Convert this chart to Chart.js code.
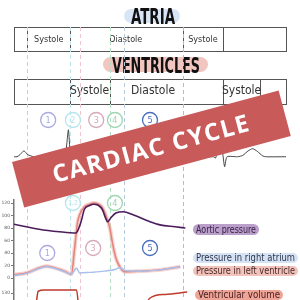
<!DOCTYPE html>
<html>
<head>
<meta charset="utf-8">
<script src="https://cdn.jsdelivr.net/npm/chart.js"></script>
<style>
  html, body { margin: 0; padding: 0; background: #fff; }
  canvas { display: block; }
</style>
</head>
<body>
<canvas id="cycle" width="300" height="300"></canvas>
<script>
// time in ms (0..900), pressure in mmHg, volume in ml, ecg in mV
const ecgTime = [0, 10, 20, 33, 45, 67, 160, 167, 173, 180, 186, 190, 197, 283, 303, 323, 343, 363, 650, 660, 667, 675, 683, 691, 697, 705, 740, 757, 775, 790, 805, 823, 833, 900];
const ecgMv   = [0, 0, 0.08, 0.22, 0.08, 0, 0, -0.1, 0.3, 1.0, 0.1, -0.12, 0, 0, 0.15, 0.3, 0.15, 0, 0, 0, -0.05, 0.3, 1.0, 0.1, -0.37, 0, 0, 0.05, 0.22, 0.3, 0.2, 0.03, 0, 0];

const aorticTime = [0, 83, 150, 205, 213, 223, 233, 250, 263, 280, 293, 303, 310, 320, 337, 363, 390, 450, 483, 533, 567];
const aorticP    = [86, 78, 74, 72, 78, 92, 110, 116, 118, 116, 109, 96, 90, 96, 104, 106, 102, 90, 85, 82, 80];

const lvTime = [0, 40, 107, 167, 190, 200, 210, 217, 233, 250, 263, 280, 293, 307, 317, 327, 337, 350, 367, 417, 483, 550];
const lvP    = [5, 8, 19, 11, 6, 45, 88, 101, 114, 118, 120, 118, 112, 96, 80, 53, 32, 18, 10, 11, 13, 18];

const raTime = [0, 40, 107, 167, 190, 200, 207, 217, 250, 300, 337, 350, 367, 417, 483, 550];
const raP    = [4, 7, 18, 10, 6, 12, 16, 8, 9, 11, 14, 17, 12, 11, 13, 18];

const volTime = [67, 75, 80, 100, 200, 207, 213, 230, 330, 400, 433, 450, 500, 573];
const volMl   = [120, 127, 130.5, 131, 131, 131, 125, 100, 60, 60, 120, 127.8, 129.2, 130.2];

const pressureTicks = [-24, 0, 20, 40, 60, 80, 100, 120];
const volumeTickAt = -24;
const volumeTickLabel = '130';

const atriaEdges = [43, 185, 560, 690];
const atriaLabels = ['Systole', 'Diastole', 'Systole'];
const atriaLabelT = [115, 370, 625];
const ventricleEdges = [185, 318, 693, 813];
const ventricleLabels = ['Systole', 'Diastole', 'Systole'];
const ventricleLabelT = [250, 460, 753];

const markerT = [43, 185, 220, 318, 363, 560];
const markerColors = ['#c2d0e4', '#bfe6ee', '#efc6d0', '#b6e0c6', '#b5cbe0', '#aebdd4'];

const stageTopLabels = ['1', '2', '3', '4', '5'];
const stageTopT = [113, 195, 272, 334, 450];
const stageChartLabels = ['1', '1,2', '3', '4', '5'];
const stageChartT = [110, 195, 262, 334, 450];
const stageChartP = [40, 120, 48, 120, 48];
const stageColors = ['#a9a8e2', '#b5e6ec', '#d8a8b8', '#9fd6b0', '#4a6fc0'];

const seriesNames = ['Aortic pressure', 'Pressure in right atrium', 'Pressure in left ventricle', 'Ventricular volume'];

const hand = "'Liberation Sans Narrow', 'DejaVu Sans Condensed', sans-serif";

function pts(xs, ys) {
  return xs.map((t, i) => ({ x: t, y: ys[i] }));
}

function pill(ctx, x, y, w, h, color) {
  const r = h / 2;
  ctx.fillStyle = color;
  ctx.beginPath();
  ctx.moveTo(x + r, y);
  ctx.lineTo(x + w - r, y);
  ctx.arc(x + w - r, y + r, r, -Math.PI / 2, Math.PI / 2);
  ctx.lineTo(x + r, y + h);
  ctx.arc(x + r, y + r, r, Math.PI / 2, Math.PI * 1.5);
  ctx.fill();
}

function circleNum(ctx, cx, cy, r, color, label) {
  ctx.strokeStyle = color;
  ctx.lineWidth = 1.3;
  ctx.beginPath();
  ctx.arc(cx, cy, r, 0, Math.PI * 2);
  ctx.stroke();
  ctx.fillStyle = color;
  ctx.font = (label.length > 1 ? '7px ' : '9px ') + hand;
  ctx.textAlign = 'center';
  ctx.textBaseline = 'middle';
  ctx.fillText(label, cx, cy + 0.5);
}

const decor = {
  id: 'decor',
  beforeDatasetsDraw(chart) {
    const ctx = chart.ctx;
    const xs = chart.scales.x;
    const ys = chart.scales.y;
    const left = chart.chartArea.left;
    const right = chart.chartArea.right;
    ctx.save();

    // titles
    pill(ctx, 124, 9, 56, 14, '#d8e5f6');
    pill(ctx, 103, 57, 105, 15, '#f1c6c1');
    ctx.fillStyle = '#111';
    ctx.textAlign = 'center';
    ctx.textBaseline = 'alphabetic';
    ctx.font = 'bold 21px ' + hand;
    ctx.fillText('ATRIA', 153, 23.5, 44);
    ctx.fillText('VENTRICLES', 156, 72.5, 88);

    // phase boxes
    ctx.strokeStyle = '#555';
    ctx.lineWidth = 1;
    const rows = [
      { top: 27, h: 24, edges: atriaEdges, labels: atriaLabels, lt: atriaLabelT, size: 9, ly: 40 },
      { top: 79, h: 25, edges: ventricleEdges, labels: ventricleLabels, lt: ventricleLabelT, size: 12, ly: 91 }
    ];
    rows.forEach(row => {
      ctx.strokeRect(left + 0.5, row.top + 0.5, right - left, row.h);
      row.edges.forEach(t => {
        const px = Math.round(xs.getPixelForValue(t)) + 0.5;
        ctx.beginPath();
        ctx.moveTo(px, row.top);
        ctx.lineTo(px, row.top + row.h);
        ctx.stroke();
      });
      ctx.fillStyle = '#333';
      ctx.font = row.size + 'px ' + hand;
      ctx.textBaseline = 'middle';
      row.labels.forEach((txt, i) => {
        ctx.fillText(txt, xs.getPixelForValue(row.lt[i]), row.ly);
      });
    });

    // dashed stage markers
    ctx.setLineDash([4, 3]);
    ctx.lineWidth = 1;
    markerT.forEach((t, i) => {
      const px = Math.round(xs.getPixelForValue(t)) + 0.5;
      ctx.strokeStyle = markerColors[i];
      ctx.beginPath();
      ctx.moveTo(px, 27);
      ctx.lineTo(px, 300);
      ctx.stroke();
    });
    ctx.setLineDash([]);

    // stage numbers
    stageTopT.forEach((t, i) => {
      circleNum(ctx, xs.getPixelForValue(t), 120, 7.5, stageColors[i], stageTopLabels[i]);
    });
    stageChartT.forEach((t, i) => {
      circleNum(ctx, xs.getPixelForValue(t), ys.getPixelForValue(stageChartP[i]), 7.5, stageColors[i], stageChartLabels[i]);
    });

    // legend pills
    const legend = [
      { x: 193, y: 224, w: 66, h: 11, c: '#b99fca', tc: '#3b2346' },
      { x: 193, y: 253, w: 105, h: 10, c: '#d6e3f5', tc: '#2e3548' },
      { x: 193, y: 266, w: 105, h: 10, c: '#f2c3bb', tc: '#4a2a2a' },
      { x: 195, y: 290, w: 88, h: 10, c: '#eea597', tc: '#4a2020' }
    ];
    legend.forEach((l, i) => {
      pill(ctx, l.x, l.y, l.w, l.h, l.c);
      ctx.fillStyle = l.tc;
      ctx.font = '10px ' + hand;
      ctx.textAlign = 'left';
      ctx.textBaseline = 'middle';
      ctx.fillText(seriesNames[i], l.x + 3, l.y + l.h / 2 + 0.5, l.w - 6);
    });

    ctx.restore();
  },
  afterDraw(chart) {
    const ctx = chart.ctx;
    ctx.save();
    ctx.translate(151.4, 149);
    ctx.rotate(-15 * Math.PI / 180);
    ctx.fillStyle = '#c95a5a';
    ctx.fillRect(-138, -23.5, 276, 47);
    ctx.fillStyle = '#fff';
    ctx.font = 'bold 24px "Open Sans", sans-serif';
    ctx.letterSpacing = '1.5px';
    ctx.textAlign = 'center';
    ctx.textBaseline = 'middle';
    ctx.fillText('CARDIAC CYCLE', 0, 1, 204);
    ctx.restore();
  }
};

new Chart(document.getElementById('cycle'), {
  type: 'line',
  data: {
    datasets: [
      {
        label: seriesNames[0],
        data: pts(aorticTime, aorticP),
        borderColor: '#4b1c5c',
        borderWidth: 1.6,
        order: 1
      },
      {
        label: seriesNames[2],
        data: pts(lvTime, lvP),
        borderColor: '#e3837c',
        borderWidth: 1.5,
        order: 3
      },
      {
        label: seriesNames[1],
        data: pts(raTime, raP),
        borderColor: '#a9c1ec',
        borderWidth: 1.5,
        order: 2
      },
      {
        label: 'band',
        data: pts(lvTime, lvP),
        borderColor: 'rgba(240,168,160,0.5)',
        borderWidth: 4,
        order: 4
      },
      {
        label: seriesNames[3],
        data: pts(volTime, volMl),
        borderColor: '#c0392b',
        borderWidth: 1.5,
        yAxisID: 'vol',
        order: 5
      },
      {
        label: 'ECG',
        data: pts(ecgTime, ecgMv),
        borderColor: '#444',
        borderWidth: 1,
        yAxisID: 'ecg',
        clip: false,
        cubicInterpolationMode: 'default',
        tension: 0.2,
        order: 6
      }
    ]
  },
  options: {
    responsive: false,
    devicePixelRatio: 1,
    animation: false,
    layout: { padding: { top: 200, right: 14, bottom: 0, left: 0 } },
    elements: {
      point: { radius: 0 },
      line: { cubicInterpolationMode: 'monotone' }
    },
    plugins: {
      legend: { display: false },
      tooltip: { enabled: false }
    },
    scales: {
      x: { type: 'linear', min: 0, max: 900, display: false },
      y: {
        min: -35.2,
        max: 124.8,
        afterBuildTicks: s => { s.ticks = pressureTicks.map(v => ({ value: v })); },
        afterFit: s => { s.width = 14; s.paddingTop = 0; s.paddingBottom = 0; },
        ticks: {
          autoSkip: false,
          padding: 1,
          color: '#555',
          font: { size: 4.5, family: 'DejaVu Sans' },
          callback: v => v === volumeTickAt ? volumeTickLabel : v
        },
        grid: { drawOnChartArea: false, tickLength: 3, color: '#777' },
        border: { color: '#777', width: 1.5 }
      },
      vol: { min: 127, max: 167, display: false },
      ecg: { min: -5.3, max: -1.6, display: false }
    }
  },
  plugins: [decor]
});
</script>
</body>
</html>
